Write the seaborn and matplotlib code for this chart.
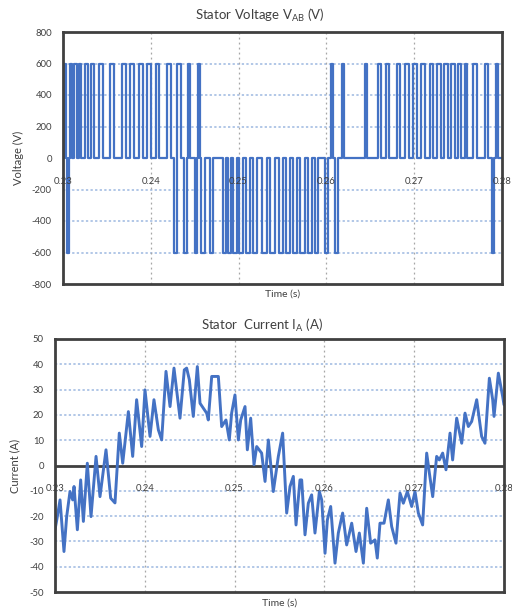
import matplotlib
matplotlib.use("Agg")
import matplotlib.pyplot as plt
import pandas as pd
import seaborn as sns

# ---- line voltage V_AB: pulses (start, end, level) ----
pulse_on = [
    0.23011, 0.23051, 0.23080, 0.23125, 0.23177, 0.23251, 0.23319, 0.23410, 0.23535, 0.23672,
    0.23763, 0.23866, 0.23957, 0.24059, 0.24185, 0.24264, 0.24304, 0.24378, 0.24418, 0.24498,
    0.24538, 0.24577, 0.24674,
    0.24822, 0.24879, 0.24936, 0.25005, 0.25084, 0.25164, 0.25272, 0.25352, 0.25460, 0.25540,
    0.25620, 0.25699, 0.25790, 0.25870, 0.25984, 0.26052, 0.26098, 0.26178,
    0.26440, 0.26588, 0.26679, 0.26804, 0.26895, 0.26986, 0.27077, 0.27180, 0.27260, 0.27339,
    0.27419, 0.27499, 0.27579, 0.27675, 0.27806, 0.27886, 0.27926,
]
pulse_off = [
    0.23034, 0.23074, 0.23103, 0.23154, 0.23205, 0.23285, 0.23353, 0.23456, 0.23581, 0.23712,
    0.23809, 0.23911, 0.24002, 0.24093, 0.24230, 0.24298, 0.24344, 0.24412, 0.24446, 0.24526,
    0.24566, 0.24617, 0.24703,
    0.24862, 0.24908, 0.24982, 0.25050, 0.25130, 0.25210, 0.25318, 0.25409, 0.25506, 0.25591,
    0.25665, 0.25756, 0.25836, 0.25904, 0.26018, 0.26075, 0.26132, 0.26206,
    0.26462, 0.26622, 0.26713, 0.26838, 0.26941, 0.27032, 0.27123, 0.27214, 0.27305, 0.27385,
    0.27465, 0.27533, 0.27607, 0.27710, 0.27835, 0.27909, 0.27954,
]
pulse_level = [
    600, -600, 600, 600, 600, 600, 600, 600, 600, 600,
    600, 600, 600, 600, 600, -600, 600, -600, 600, -600,
    600, -600, -600,
    -600, -600, -600, -600, -600, -600, -600, -600, -600, -600,
    -600, -600, -600, -600, -600, 600, -600, 600,
    600, 600, 600, 600, 600, 600, 600, 600, 600, 600,
    600, 600, 600, 600, 600, -600, 600,
]

# ---- stator phase current I_A ----
current_time = [
    0.23000, 0.23026, 0.23056, 0.23100, 0.23130, 0.23167, 0.23197, 0.23212, 0.23249, 0.23286,
    0.23316, 0.23360, 0.23401, 0.23457, 0.23501, 0.23568, 0.23620, 0.23668, 0.23716, 0.23754,
    0.23817, 0.23865, 0.23909, 0.23965, 0.24002, 0.24058, 0.24102, 0.24151, 0.24188, 0.24236,
    0.24281, 0.24325, 0.24392, 0.24440, 0.24466, 0.24496, 0.24540, 0.24585, 0.24615, 0.24689,
    0.24707, 0.24745, 0.24819, 0.24856, 0.24904, 0.24941, 0.24967, 0.25004, 0.25042, 0.25068,
    0.25116, 0.25142, 0.25179, 0.25216, 0.25246, 0.25301, 0.25339, 0.25376, 0.25431, 0.25487,
    0.25535, 0.25580, 0.25617, 0.25654, 0.25684, 0.25728, 0.25747, 0.25784, 0.25821, 0.25858,
    0.25895, 0.25944, 0.25970, 0.26007, 0.26033, 0.26070, 0.26118, 0.26155, 0.26203, 0.26248,
    0.26304, 0.26352, 0.26389, 0.26434, 0.26471, 0.26515, 0.26563, 0.26589, 0.26619, 0.26664,
    0.26712, 0.26749, 0.26797, 0.26842, 0.26879, 0.26924, 0.26972, 0.27009, 0.27046, 0.27094,
    0.27139, 0.27169, 0.27206, 0.27250, 0.27280, 0.27317, 0.27354, 0.27399, 0.27428, 0.27473,
    0.27529, 0.27566, 0.27603, 0.27640, 0.27696, 0.27751, 0.27788, 0.27837, 0.27874, 0.27889,
    0.27937, 0.27985, 0.28000,
]
current_value = [
    -25.4, -20.2, -13.6, -34.0, -20.2, -10.3, -13.6, -8.3, -25.4, -5.7,
    -22.1, 0.9, -20.2, 3.6, -12.3, 6.2, -12.9, -14.8, 12.8, 0.9,
    21.3, 3.6, 26.0, 7.5, 29.9, 11.5, 26.0, 14.1, 10.1, 37.2,
    23.3, 38.5, 18.7, 37.8, 38.5, 33.9, 19.4, 39.1, 24.6, 20.7,
    18.0, 35.2, 35.2, 15.4, 18.0, 10.1, 20.7, 27.9, 10.1, 18.0,
    23.3, 6.2, 18.7, 0.3, 7.5, 4.9, -6.3, 10.1, -10.3, 3.6,
    12.8, -18.8, -8.3, -4.3, -23.5, -5.7, -5.7, -27.4, -14.9, -11.6,
    -26.7, -10.3, -13.6, -34.7, -21.5, -16.2, -38.6, -26.7, -18.8, -31.4,
    -22.8, -34.0, -26.7, -38.6, -16.9, -30.7, -29.4, -36.6, -22.8, -22.8,
    -13.6, -24.1, -30.7, -10.9, -14.9, -10.3, -16.2, -10.3, -18.8, -23.5,
    4.9, -3.0, -12.3, 3.6, 2.2, 4.9, -1.7, 12.8, 2.2, 18.7,
    8.8, 20.7, 15.4, 17.4, 26.0, 11.5, 8.8, 34.5, 26.0, 19.4,
    36.5, 27.3, 24.0,
]

x_ticks = [0.23, 0.24, 0.25, 0.26, 0.27, 0.28]
x_tick_labels = ["0.23", "0.24", "0.25", "0.26", "0.27", "0.28"]
v_ticks = [-800, -600, -400, -200, 0, 200, 400, 600, 800]
i_ticks = [-50, -40, -30, -20, -10, 0, 10, 20, 30, 40, 50]

sns.set_theme(style="white")
plt.rcParams["font.family"] = ["Lato", "DejaVu Sans"]
plt.rcParams["mathtext.fontset"] = "custom"
plt.rcParams["mathtext.rm"] = "Lato"

TRACE = "#4472C4"
FRAME = "#404040"
TEXT = "#404040"
HGRID = "#9db8e0"
VGRID = "#a6a6a6"

# step representation of the PWM voltage
t_steps, v_steps = [x_ticks[0]], [0]
for on, off, lvl in zip(pulse_on, pulse_off, pulse_level):
    t_steps += [on, off]
    v_steps += [lvl, 0]
t_steps.append(x_ticks[-1])
v_steps.append(0)
volt_df = pd.DataFrame({"Time (s)": t_steps, "Voltage (V)": v_steps})
curr_df = pd.DataFrame({"Time (s)": current_time, "Current (A)": current_value})

fig = plt.figure(figsize=(5.12, 6.15), dpi=100)
ax1 = fig.add_axes([63 / 512, 1 - 284 / 615, 439 / 512, 252 / 615])
ax2 = fig.add_axes([55 / 512, 1 - 592 / 615, 449 / 512, 253 / 615])


def style_axes(ax, yticks, label_drop):
    ax.set_xlim(x_ticks[0], x_ticks[-1])
    ax.set_ylim(yticks[0], yticks[-1])
    ax.set_xticks(x_ticks)
    ax.set_yticks(yticks)
    ax.set_yticklabels([str(v) for v in yticks])
    ax.tick_params(axis="x", length=0, labelbottom=False)
    ax.tick_params(axis="y", length=0, pad=8, labelsize=6.8, labelcolor=TEXT)
    ax.set_xlabel("")
    ax.set_ylabel("")
    ax.grid(False)
    for v in yticks[1:-1]:
        if v != 0:
            ax.axhline(v, color=HGRID, lw=1.1, ls=(0, (1.5, 1.5)), zorder=1)
    for t in x_ticks[1:-1]:
        ax.axvline(t, color=VGRID, lw=0.9, ls=(0, (1.5, 2.5)), zorder=1)
    for s in ax.spines.values():
        s.set_visible(True)
        s.set_color(FRAME)
        s.set_linewidth(2.0)
        s.set_zorder(5)
    # time labels hang below the zero level
    for t, lab in zip(x_ticks, x_tick_labels):
        ax.annotate(lab, xy=(t, 0), xytext=(0, -label_drop), textcoords="offset pixels",
                    ha="center", va="center", fontsize=6.8, color=TEXT,
                    annotation_clip=False, zorder=6)


sns.lineplot(data=volt_df, x="Time (s)", y="Voltage (V)", ax=ax1, color=TRACE,
             lw=1.6, drawstyle="steps-post", estimator=None, sort=False, zorder=3)
style_axes(ax1, v_ticks, 24)

sns.lineplot(data=curr_df, x="Time (s)", y="Current (A)", ax=ax2, color=TRACE,
             lw=2.1, estimator=None, sort=False, zorder=3)
style_axes(ax2, i_ticks, 23)
ax2.axhline(0, color=FRAME, lw=2.0, zorder=2)

# titles and axis names
fig.text(260 / 512, 1 - 15 / 615, r"Stator Voltage V$_{\mathregular{AB}}$ (V)",
         ha="center", va="center", fontsize=9.5, color=TEXT)
fig.text(262 / 512, 1 - 325 / 615, r"Stator  Current I$_{\mathregular{A}}$ (A)",
         ha="center", va="center", fontsize=9.5, color=TEXT)
fig.text(283 / 512, 1 - 294 / 615, "Time (s)", ha="center", va="center",
         fontsize=7.5, color=TEXT)
fig.text(280 / 512, 1 - 603 / 615, "Time (s)", ha="center", va="center",
         fontsize=7.5, color=TEXT)
fig.text(18 / 512, 1 - 158 / 615, "Voltage (V)", rotation=90, ha="center",
         va="center", fontsize=8, color=TEXT)
fig.text(15 / 512, 1 - 466 / 615, "Current (A)", rotation=90, ha="center",
         va="center", fontsize=8, color=TEXT)

fig.savefig("out.png", dpi=100, facecolor="white")
